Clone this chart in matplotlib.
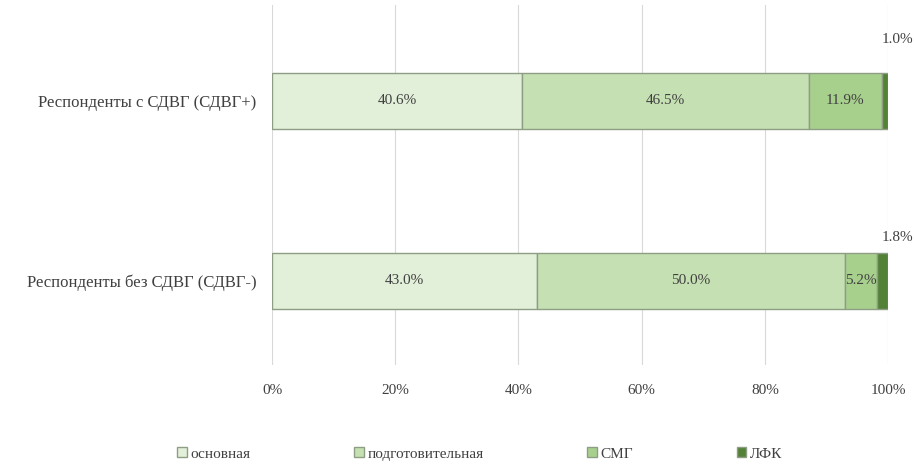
import matplotlib.pyplot as plt
import numpy as np

plt.rcParams['font.family'] = ['Liberation Serif', 'DejaVu Serif']

# Data
groups = ["Респонденты без СДВГ (СДВГ-)", "Респонденты с СДВГ (СДВГ+)"]
categories = ["основная", "подготовительная", "СМГ", "ЛФК"]
osnovnaya = [43.0, 40.6]
podgot = [50.0, 46.5]
smg = [5.2, 11.9]
lfk = [1.8, 1.0]
xticks = [0, 20, 40, 60, 80, 100]

colors = ['#e2efd9', '#c5e0b3', '#a8d08d', '#538135']
series = [osnovnaya, podgot, smg, lfk]
txt = '#404040'
fs = 11

fig = plt.figure(figsize=(9.14, 4.66), dpi=100)
ax = fig.add_axes([0.2976, 0.217, 0.674, 0.772])

y = np.arange(len(groups))
left = np.zeros(len(groups))
for vals, name, col in zip(series, categories, colors):
    bars = ax.barh(y, vals, left=left, height=0.31, color=col,
                   edgecolor='#8e9e84', linewidth=1.0, label=name, zorder=3)
    if name != "ЛФК":
        for b, v in zip(bars, vals):
            ax.text(b.get_x() + b.get_width() / 2, b.get_y() + b.get_height() / 2,
                    f"{v:.1f}%", ha='center', va='center', fontsize=fs,
                    color=txt, zorder=4)
    left = left + np.array(vals)

# small ЛФК labels above the bar ends
for yi, v, dy in zip(y, lfk, [0.24, 0.34]):
    ax.text(101.5, yi + dy, f"{v:.1f}%", ha='center', va='center',
            fontsize=fs, color=txt)

ax.set_xlim(0, 100)
ax.set_ylim(-0.467, 1.533)
ax.set_xticks(xticks)
ax.set_xticklabels([f"{t}%" for t in xticks], fontsize=fs, color=txt)
ax.set_yticks(y)
ax.set_yticklabels(groups, fontsize=12, color=txt)
ax.tick_params(axis='both', length=0)
ax.tick_params(axis='x', pad=14)
ax.tick_params(axis='y', pad=11)
ax.grid(axis='x', color='#d9d9d9', linewidth=0.8, zorder=0)
for s in ax.spines.values():
    s.set_visible(False)

fig.legend(loc='center', bbox_to_anchor=(0.525, 0.026), ncol=4, frameon=False,
           fontsize=fs, handlelength=0.6, handleheight=0.6, handletextpad=0.25,
           columnspacing=6.8, labelcolor=txt)

plt.savefig("out.png", dpi=100)
